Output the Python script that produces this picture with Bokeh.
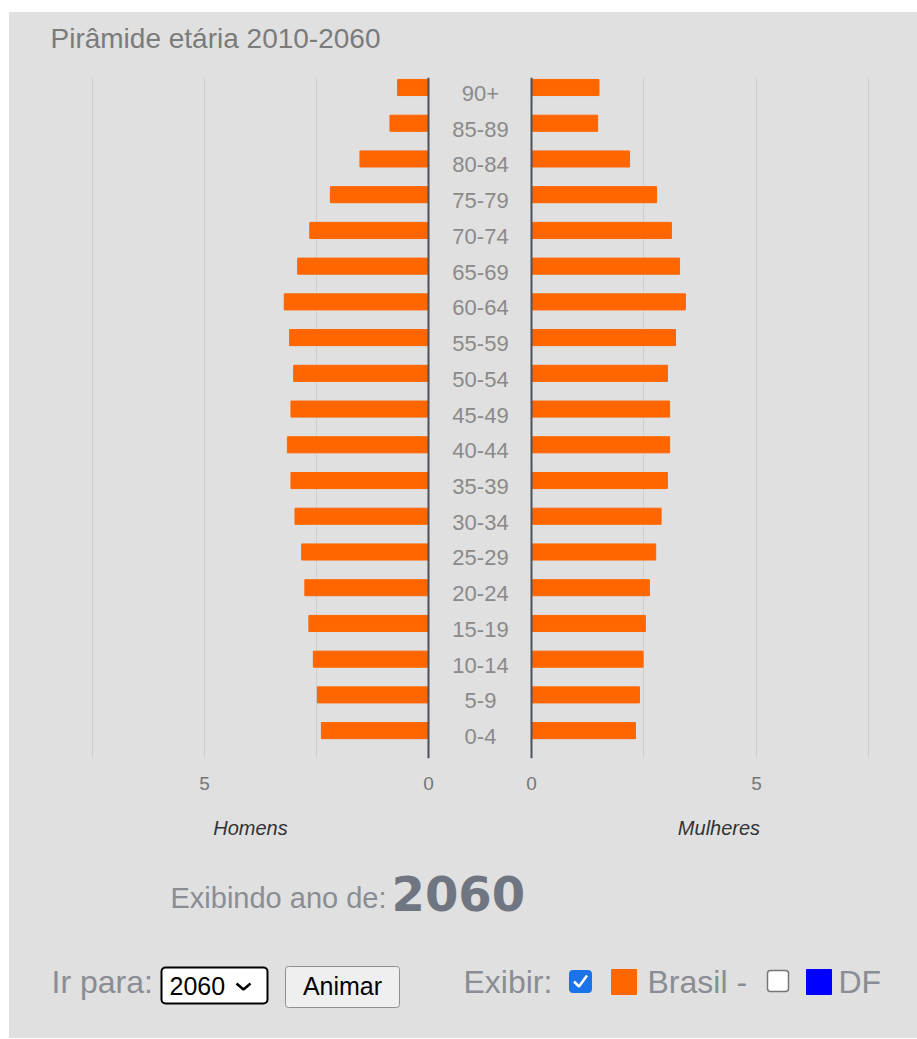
from bokeh.plotting import figure
from bokeh.layouts import column, row
from bokeh.models import Range1d, Span, FixedTicker, Spacer, ColumnDataSource
from bokeh.core.properties import value
from bokeh.embed import file_html
from bokeh.resources import INLINE

# ---------------- data ----------------
ages = ["0-4", "5-9", "10-14", "15-19", "20-24", "25-29", "30-34", "35-39",
        "40-44", "45-49", "50-54", "55-59", "60-64", "65-69", "70-74",
        "75-79", "80-84", "85-89", "90+"]
homens = [2.39, 2.48, 2.57, 2.67, 2.76, 2.83, 2.98, 3.07, 3.15, 3.07, 3.01,
          3.10, 3.22, 2.92, 2.65, 2.19, 1.53, 0.86, 0.69]
mulheres = [2.31, 2.40, 2.48, 2.53, 2.62, 2.76, 2.88, 3.02, 3.07, 3.07, 3.02,
            3.20, 3.42, 3.29, 3.11, 2.78, 2.18, 1.47, 1.50]
tick_values = [0, 5]
grid_values = [2.5, 5, 7.5]
title_text = "Pirâmide etária 2010-2060"
ano = "2060"
label_homens = "Homens"
label_mulheres = "Mulheres"

# ---------------- style ----------------
BG = "#e0e0e0"
ORANGE = "#ff6600"
FONT = "Liberation Sans"
GRAY_TXT = "#8a8d93"

rows_idx = list(range(len(ages)))
src = ColumnDataSource(dict(age=ages, y=rows_idx, h=homens, m=mulheres))


def base(**kw):
    p = figure(output_backend="svg", toolbar_location=None, min_border=0, **kw)
    p.background_fill_color = None
    p.border_fill_color = None
    p.outline_line_color = None
    return p


def style_side(p, label):
    p.ygrid.visible = False
    p.xgrid.ticker = FixedTicker(ticks=grid_values)
    p.xgrid.grid_line_color = "#cfcfcf"
    p.xgrid.grid_line_width = 1
    ax = p.xaxis[0]
    ax.ticker = FixedTicker(ticks=tick_values)
    ax.axis_line_color = None
    ax.major_tick_line_color = None
    ax.minor_tick_line_color = None
    ax.major_label_text_font = FONT
    ax.major_label_text_font_size = "19px"
    ax.major_label_text_color = "#777777"
    ax.major_label_standoff = 12
    ax.axis_label = label
    ax.axis_label_text_font = FONT
    ax.axis_label_text_font_style = "italic"
    ax.axis_label_text_font_size = "20px"
    ax.axis_label_text_color = "#333333"
    ax.axis_label_standoff = 24
    p.add_layout(Span(location=0, dimension="height", line_color="#4d525a", line_width=2))


y_rng = Range1d(-0.78, 18.28)
FH = 681

left = base(frame_width=380, frame_height=FH, x_range=Range1d(8.214, -0.268),
            y_range=y_rng, y_axis_location=None, min_border_left=51, min_border_bottom=92)
left.hbar(y="y", left=0, right="h", height=0.45, source=src, color=ORANGE)
style_side(left, label_homens)

mid = base(frame_width=80, frame_height=FH, x_range=Range1d(0, 1), y_range=y_rng,
           x_axis_location=None, y_axis_location=None, min_border_bottom=92)
mid.xgrid.visible = False
mid.ygrid.visible = False
mid.text(x=0.5, y="y", text="age", source=src, text_align="center",
         text_baseline="alphabetic", y_offset=6, text_font=value(FONT),
         text_font_size="22px", text_color="#8a8a8a")

right = base(frame_width=397, frame_height=FH, x_range=Range1d(-0.2444, 8.578),
             y_range=y_rng, y_axis_location=None, min_border_bottom=92)
right.hbar(y="y", left=0, right="m", height=0.45, source=src, color=ORANGE)
style_side(right, label_mulheres)

# ---------------- title ----------------
top = base(frame_width=908, frame_height=65, x_range=Range1d(9, 917), y_range=Range1d(77, 12),
           x_axis_location=None, y_axis_location=None)
top.grid.visible = False
top.text(x=[50], y=[37.5], text=[title_text], text_font=value(FONT), text_font_size="28px",
         text_color="#7b7b7b", text_baseline="alphabetic")

# ---------------- bottom controls ----------------
bot = base(frame_width=908, frame_height=188, x_range=Range1d(9, 917), y_range=Range1d(1038, 850),
           x_axis_location=None, y_axis_location=None)
bot.grid.visible = False


def t(x, y, s, size, color=GRAY_TXT, style="normal", align="left", font=FONT):
    bot.text(x=[x], y=[y], text=[s], text_font=value(font), text_font_size=size,
             text_color=color, text_font_style=style, text_align=align,
             text_baseline="alphabetic")


t(170, 897.5, "Exibindo ano de:", "29px")
t(391, 893, ano, "48px", color="#6f7681", style="bold", font="DejaVu Sans")

t(51, 981.5, "Ir para:", "32px")
bot.quad(left=[161], right=[267], top=[967], bottom=[1003], fill_color="white",
         line_color="black", line_width=2, border_radius=4)
t(169, 985, ano, "25px", color="black")
bot.line(x=[236, 243, 250], y=[983, 989, 983], line_color="black", line_width=2.5)
bot.quad(left=[285], right=[399], top=[966], bottom=[1007], fill_color="#efefef",
         line_color="#8f8f8f", line_width=1, border_radius=3)
t(342, 985, "Animar", "25px", color="black", align="center")

t(463, 981.5, "Exibir:", "32px")
bot.quad(left=[569], right=[591], top=[970], bottom=[992], fill_color="#1a73e8",
         line_color="#1a73e8", border_radius=3)
bot.line(x=[573.5, 578.5, 586.5], y=[981, 986, 975], line_color="white", line_width=2.5)
bot.quad(left=[611], right=[636], top=[969], bottom=[994], fill_color=ORANGE, line_color=ORANGE)
t(647, 981.5, "Brasil -", "32px")
bot.quad(left=[767], right=[788], top=[970], bottom=[991], fill_color="white",
         line_color="#767676", line_width=1.5, border_radius=3)
bot.quad(left=[806], right=[831], top=[969], bottom=[994], fill_color="#0000ff", line_color="#0000ff")
t(838, 981.5, "DF", "32px")

WHITE = {"background-color": "white"}
panel = column(top, row(left, mid, right), bot, width=908, height=1026,
               sizing_mode="fixed", styles={"background-color": BG})
layout = column(Spacer(width=917, height=12, styles=WHITE),
                row(Spacer(width=9, height=1026, styles=WHITE), panel,
                    width=917, height=1026, sizing_mode="fixed",
                    styles={"background-color": BG}),
                width=917, height=1038, sizing_mode="fixed",
                styles={"background-color": BG})

open("out.html", "w").write(file_html(layout, INLINE))
